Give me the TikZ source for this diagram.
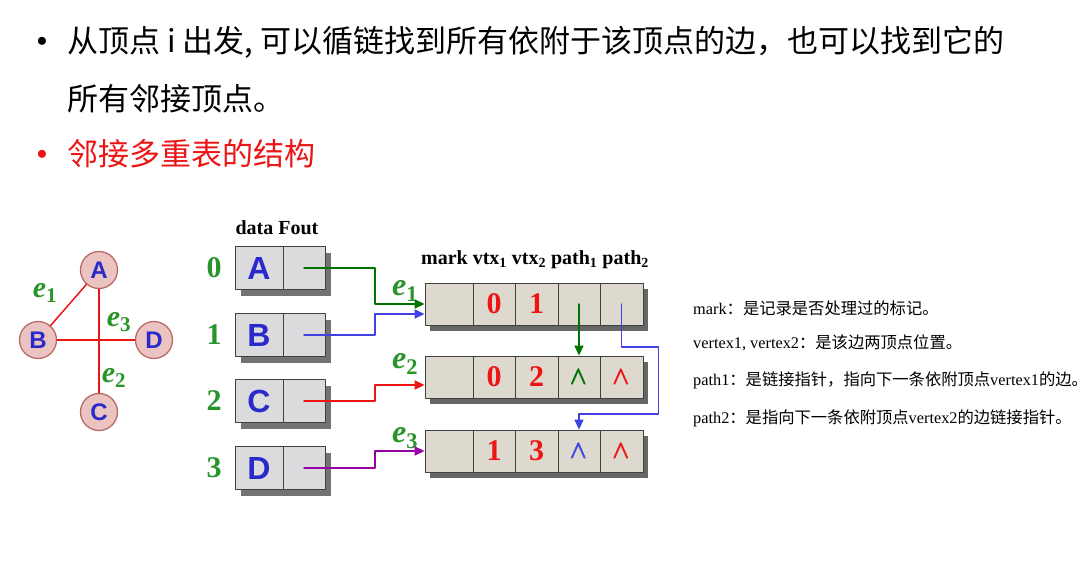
\documentclass[tikz,border=0pt]{standalone}
\usepackage{amsmath}
\usepackage{fontspec}
\setmainfont{Liberation Serif}
\setsansfont{Liberation Sans}
\newfontfamily\cjk{Noto Sans CJK SC}
\usepackage{tikz}
\usetikzlibrary{calc}
\usetikzlibrary{arrows.meta}
\usetikzlibrary{shadows}
\definecolor{ttqqtt}{rgb}{0.16,0.58,0.16}
\definecolor{qqqqcc}{rgb}{0.16,0.16,0.8}
\definecolor{ffqqqq}{rgb}{0.93,0.08,0.08}
\definecolor{qqttqq}{rgb}{0.,0.45,0.}
\definecolor{ttttff}{rgb}{0.25,0.25,0.9}
\definecolor{ccqqcc}{rgb}{0.6,0.,0.65}
\definecolor{ffcccc}{rgb}{0.92,0.77,0.76}
\definecolor{ccttss}{rgb}{0.72,0.42,0.4}
\definecolor{ddddde}{rgb}{0.86,0.86,0.87}
\definecolor{ddd9cf}{rgb}{0.87,0.85,0.81}
\newcommand{\eLab}[1]{\textbf{\textit{e}}\textsubscript{\textbf{#1}}}
\newcommand{\nilp}{$\pmb{\wedge}$}
\tikzstyle{every node}=[inner sep=0pt]
\tikzstyle{topline}=[anchor=west,font=\cjk\fontsize{31}{36}\selectfont]
\tikzstyle{bul}=[font=\fontsize{22}{22}\selectfont]
\tikzstyle{note}=[anchor=west,font=\fontsize{16.3}{18}\selectfont]
\tikzstyle{vert}=[circle,draw=ccttss,line width=1.3pt,fill=ffcccc,minimum size=37pt,font=\sffamily\bfseries\fontsize{24}{24}\selectfont,text=qqqqcc]
\tikzstyle{gedge}=[color=ffqqqq,line width=1.5pt]
\tikzstyle{glab}=[color=ttqqtt,font=\fontsize{30}{30}\selectfont]
\tikzstyle{tlab}=[color=ttqqtt,font=\fontsize{32}{32}\selectfont]
\tikzstyle{hdr}=[font=\bfseries\fontsize{20}{20}\selectfont]
\tikzstyle{idx}=[color=ttqqtt,font=\bfseries\fontsize{30}{30}\selectfont]
\tikzstyle{vcell}=[draw=black!75,line width=0.8pt,fill=ddddde,minimum height=43pt,text=qqqqcc,font=\sffamily\bfseries\fontsize{32}{32}\selectfont,drop shadow={shadow xshift=6pt,shadow yshift=-6pt,fill=black!55,opacity=1}]
\tikzstyle{ecell}=[draw=black!75,line width=0.8pt,fill=ddd9cf,minimum height=42pt,drop shadow={shadow xshift=5pt,shadow yshift=-6pt,fill=black!60,opacity=1}]
\tikzstyle{num}=[text=ffqqqq,font=\bfseries\fontsize{30}{30}\selectfont]
\tikzstyle{wedg}=[font=\fontsize{26}{26}\selectfont]
\tikzstyle{ptr}=[->,line width=1.4pt]

\begin{document}
\begin{tikzpicture}[line cap=round,line join=round,>={Triangle[length=10pt,width=9pt]},x=1.0pt,y=-1.0pt]
\useasboundingbox (0,0) rectangle (1092,587);
% top text
\node[bul] (b1) at (42,42) {$\bullet$};
\node[topline] (t1) at (67,42) {从顶点 i 出发, 可以循链找到所有依附于该顶点的边，也可以找到它的};
\node[topline] (t2) at (67,99) {所有邻接顶点。};
\node[bul,color=ffqqqq] (b2) at (42,155) {$\bullet$};
\node[topline,color=ffqqqq] (t3) at (67,154) {邻接多重表的结构};
% graph
\node[vert] (A) at (99,270) {A};
\node[vert] (B) at (38,340) {B};
\node[vert] (D) at (154,340) {D};
\node[vert] (C) at (99,412) {C};
\draw[gedge] (A) -- (B);
\draw[gedge] (A) -- (C);
\draw[gedge] (B) -- (D);
\node[glab] (g1) at (45,293) {\eLab{1}};
\node[glab] (g3) at (119,322) {\eLab{3}};
\node[glab] (g2) at (114,378) {\eLab{2}};
% vertex table
\node[hdr] (vh) at (277,228) {data Fout};
\foreach \v/\n/\y in {A/0/268,B/1/335,C/2/401,D/3/468}{
  \node[idx] (i\v) at (214,\y) {\n};
  \node[vcell,minimum width=48pt] (v\v-d) at (259,\y) {\v};
  \node[vcell,minimum width=42pt] (v\v-f) at (304,\y) {};
}
% edge table
\node[hdr] (eh) at (535,260) {mark vtx\textsubscript{1} vtx\textsubscript{2} path\textsubscript{1} path\textsubscript{2}};
\foreach \r/\a/\b/\y/\p/\q in {1/0/1/304/{}/{},2/0/2/377/{\color{qqttqq}\nilp}/{\color{ffqqqq}\nilp},3/1/3/451/{\color{ttttff}\nilp}/{\color{ffqqqq}\nilp}}{
  \node[ecell,minimum width=48pt] (e\r-mk) at (449,\y) {};
  \node[ecell,num,minimum width=42pt] (e\r-v1) at (494,\y) {\a};
  \node[ecell,num,minimum width=43pt] (e\r-v2) at (536.5,\y) {\b};
  \node[ecell,wedg,minimum width=42pt] (e\r-p1) at (579,\y) {\p};
  \node[ecell,wedg,minimum width=43pt] (e\r-p2) at (621.5,\y) {\q};
  \node[tlab] (l\r) at (405,\y-13) {\eLab{\r}};
}
% pointers
\draw[ptr,color=qqttqq] (vA-f.center) -- ++(71,0) |- (e1-mk.west);
\draw[ptr,color=ttttff] (vB-f.center) -- ++(71,0) |- ([yshift=-10pt]e1-mk.west);
\draw[ptr,color=ffqqqq] (vC-f.center) -- ++(71,0) |- ([yshift=-8pt]e2-mk.west);
\draw[ptr,color=ccqqcc] (vD-f.center) -- ++(71,0) |- (e3-mk.west);
\draw[ptr,color=qqttqq] (e1-p1.center) -- (e2-p1.north);
\draw[ptr,color=ttttff] (e1-p2.center) -- ++(0,43) -- ++(37,0) -- ++(0,67) -| (e3-p1.north);
% notes
\node[note] (n1) at (693,308) {mark{\cjk：是记录是否处理过的标记。}};
\node[note] (n2) at (693,343) {vertex1, vertex2{\cjk：是该边两顶点位置。}};
\node[note] (n3) at (693,380) {path1{\cjk：是链接指针，指向下一条依附顶点}vertex1{\cjk 的边。}};
\node[note] (n4) at (693,418) {path2{\cjk：是指向下一条依附顶点}vertex2{\cjk 的边链接指针。}};
\end{tikzpicture}
\end{document}
